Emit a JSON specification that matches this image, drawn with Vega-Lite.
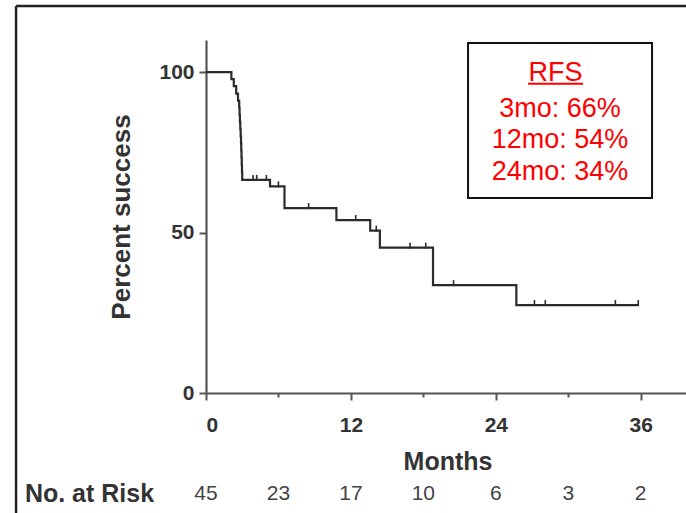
{
  "$schema": "https://vega.github.io/schema/vega-lite/v6.json",
  "width": 483,
  "height": 353,
  "autosize": {"type": "none"},
  "padding": {"left": 206, "top": 40, "right": 0, "bottom": 120},
  "background": "white",
  "config": {"view": {"stroke": null}, "font": "Liberation Sans"},
  "datasets": {
    "km": [
      {"months": 0, "pct": 100},
      {"months": 2.1, "pct": 97.8},
      {"months": 2.3, "pct": 95.6},
      {"months": 2.5, "pct": 93.3},
      {"months": 2.65, "pct": 91.1},
      {"months": 2.75, "pct": 88.9},
      {"months": 2.78, "pct": 86.7},
      {"months": 2.81, "pct": 84.4},
      {"months": 2.84, "pct": 82.2},
      {"months": 2.87, "pct": 80.0},
      {"months": 2.9, "pct": 77.8},
      {"months": 2.92, "pct": 75.6},
      {"months": 2.94, "pct": 73.3},
      {"months": 2.96, "pct": 71.1},
      {"months": 2.98, "pct": 68.9},
      {"months": 3.0, "pct": 66.4},
      {"months": 5.3, "pct": 64.4},
      {"months": 6.5, "pct": 57.6},
      {"months": 10.8, "pct": 53.9},
      {"months": 13.6, "pct": 50.6},
      {"months": 14.4, "pct": 45.3},
      {"months": 18.8, "pct": 33.6},
      {"months": 25.7, "pct": 27.4},
      {"months": 35.8, "pct": 27.4}
    ],
    "censored": [
      {"months": 3.9, "pct": 66.4},
      {"months": 4.2, "pct": 66.4},
      {"months": 5.0, "pct": 66.4},
      {"months": 6.0, "pct": 64.4},
      {"months": 8.5, "pct": 57.6},
      {"months": 12.4, "pct": 53.9},
      {"months": 14.1, "pct": 50.6},
      {"months": 16.9, "pct": 45.3},
      {"months": 18.2, "pct": 45.3},
      {"months": 20.5, "pct": 33.6},
      {"months": 27.2, "pct": 27.4},
      {"months": 28.1, "pct": 27.4},
      {"months": 33.9, "pct": 27.4},
      {"months": 35.8, "pct": 27.4}
    ],
    "risk": [
      {"months": 0, "n": 45},
      {"months": 6, "n": 23},
      {"months": 12, "n": 17},
      {"months": 18, "n": 10},
      {"months": 24, "n": 6},
      {"months": 30, "n": 3},
      {"months": 36, "n": 2}
    ]
  },
  "layer": [
    {
      "data": {"name": "km"},
      "mark": {"type": "line", "interpolate": "step-after", "color": "#2b2b2b", "strokeWidth": 2.2},
      "encoding": {
        "x": {
          "field": "months",
          "type": "quantitative",
          "scale": {"domain": [0, 40], "nice": false, "zero": false},
          "axis": {
            "title": "Months",
            "values": [0, 6, 12, 18, 24, 30, 36],
            "labelExpr": "datum.value % 12 === 0 ? datum.label : ''",
            "grid": false,
            "domainColor": "#555",
            "domainWidth": 2.2,
            "tickColor": "#555",
            "tickWidth": 2,
            "tickSize": {"condition": {"test": "datum.value % 12 === 0", "value": 7}, "value": 4},
            "labelFontSize": 21,
            "labelFontWeight": "bold",
            "labelColor": "#333",
            "labelPadding": 14,
            "titleFontSize": 25,
            "titleFontWeight": "bold",
            "titleColor": "#333",
            "titlePadding": 14
          }
        },
        "y": {
          "field": "pct",
          "type": "quantitative",
          "scale": {"domain": [0, 110], "nice": false},
          "axis": {
            "title": "Percent success",
            "values": [0, 50, 100],
            "grid": false,
            "domainColor": "#555",
            "domainWidth": 2.2,
            "tickColor": "#555",
            "tickWidth": 2,
            "tickSize": 7,
            "labelFontSize": 21,
            "labelFontWeight": "bold",
            "labelColor": "#333",
            "labelPadding": 5,
            "titleFontSize": 26,
            "titleFontWeight": "bold",
            "titleColor": "#333",
            "titlePadding": 24
          }
        }
      }
    },
    {
      "data": {"name": "censored"},
      "mark": {"type": "point", "shape": "M0,-1L0,0.2", "size": 100, "stroke": "#2b2b2b", "strokeWidth": 1.6, "filled": false, "opacity": 1},
      "encoding": {
        "x": {"field": "months", "type": "quantitative"},
        "y": {"field": "pct", "type": "quantitative"}
      }
    },
    {
      "data": {"name": "risk"},
      "mark": {"type": "text", "fontSize": 21, "color": "#444", "baseline": "middle", "align": "center"},
      "encoding": {
        "x": {"field": "months", "type": "quantitative"},
        "y": {"datum": -31.5},
        "text": {"field": "n", "type": "quantitative"}
      }
    },
    {
      "data": {"values": [{}]},
      "mark": {"type": "text", "text": "No. at Risk", "fontSize": 25, "fontWeight": "bold", "color": "#333", "baseline": "middle", "align": "left"},
      "encoding": {"x": {"datum": -15.0}, "y": {"datum": -31.5}}
    },
    {
      "data": {"values": [{}]},
      "mark": {"type": "rule", "color": "#222", "strokeWidth": 2.5},
      "encoding": {"x": {"datum": -15.73}, "y": {"datum": 120.6}, "y2": {"datum": -45}}
    },
    {
      "data": {"values": [{}]},
      "mark": {"type": "rule", "color": "#222", "strokeWidth": 2.5},
      "encoding": {"x": {"datum": -15.73}, "x2": {"datum": 41}, "y": {"datum": 120.6}}
    },
    {
      "data": {"values": [{}]},
      "mark": {"type": "rect", "fill": "white", "stroke": "#111", "strokeWidth": 2},
      "encoding": {"x": {"datum": 21.7}, "x2": {"datum": 36.94}, "y": {"datum": 109.06}, "y2": {"datum": 60.76}}
    },
    {
      "data": {"values": [{}]},
      "mark": {"type": "text", "text": "RFS", "fontSize": 27, "color": "#ff0000", "baseline": "alphabetic", "align": "center"},
      "encoding": {"x": {"datum": 28.94}, "y": {"datum": 97.07}}
    },
    {
      "data": {"values": [{}]},
      "mark": {"type": "rule", "color": "#ff0000", "strokeWidth": 2},
      "encoding": {"x": {"datum": 26.67}, "x2": {"datum": 31.22}, "y": {"datum": 96.4}}
    },
    {
      "data": {"values": [{}]},
      "mark": {"type": "text", "text": ["3mo: 66%", "12mo: 54%", "24mo: 34%"], "lineHeight": 31.5, "fontSize": 27, "color": "#ff0000", "baseline": "alphabetic", "align": "center"},
      "encoding": {"x": {"datum": 29.32}, "y": {"datum": 86.16}}
    }
  ]
}
